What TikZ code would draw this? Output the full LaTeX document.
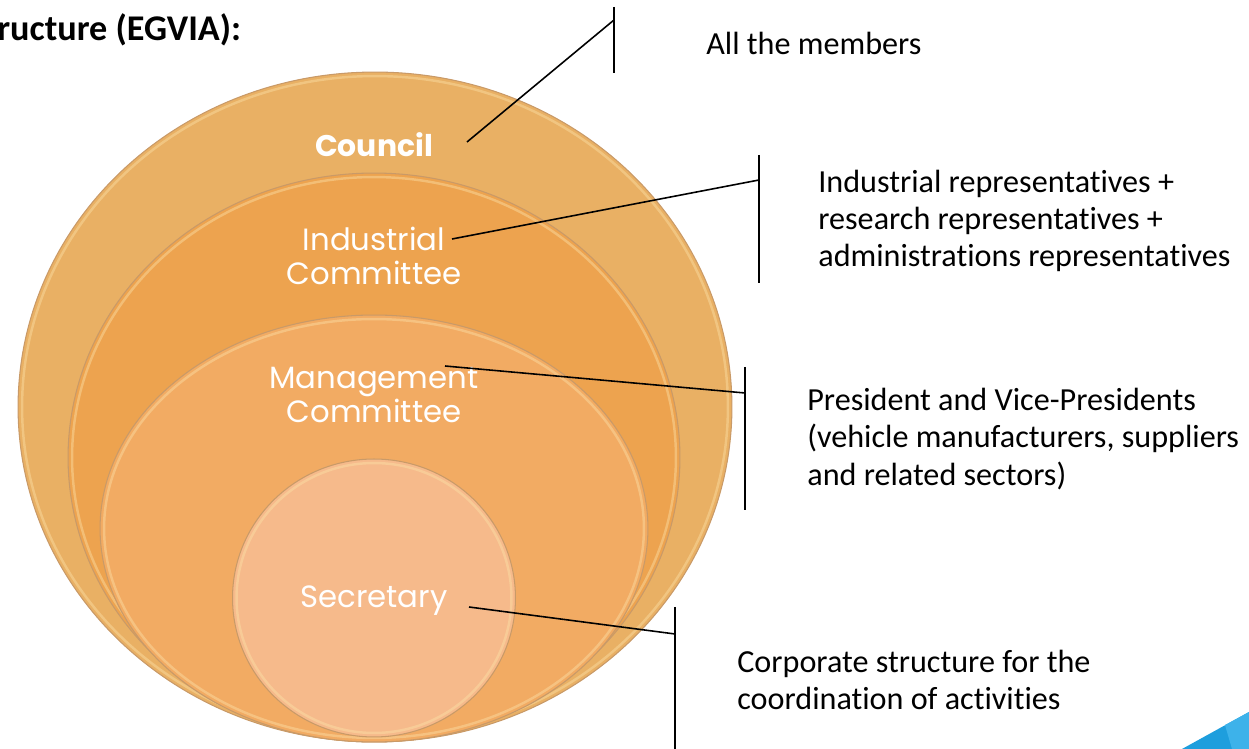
\documentclass[tikz,border=0pt]{standalone}
\usepackage{fontspec}
\setmainfont[Ligatures=NoCommon]{Carlito}
\newfontfamily\ringfont{Poppins}
\usepackage{xcolor}
\usetikzlibrary{shapes.geometric}

\definecolor{councilfill}{HTML}{E9B064}
\definecolor{industryfill}{HTML}{EDA34F}
\definecolor{managefill}{HTML}{F2AB63}
\definecolor{secretfill}{HTML}{F6BA8B}
\definecolor{rimcol}{HTML}{C99A68}
\definecolor{glosscol}{HTML}{FBE0A6}
\definecolor{egviablue}{HTML}{1E9EDD}
\definecolor{egvialight}{HTML}{3DB2EA}

\tikzset{
  ring/.style={ellipse, draw=rimcol, line width=0.6pt, inner sep=0pt},
  gloss/.style={glosscol, opacity=0.45, line width=1.4pt},
  ringlabel/.style={text=white, align=center, font=\ringfont\fontsize{17.5}{19.4}\selectfont},
  note/.style={anchor=west, align=left, inner sep=0pt, font=\fontsize{18.3}{21.2}\selectfont},
  leader/.style={black, line width=0.9pt},
}

\begin{document}
\begin{tikzpicture}[x=0.02cm, y=-0.02cm]
\useasboundingbox (0,0) rectangle (1249,749);

% stacked rings
\node[ring, fill=councilfill, minimum width=14.28cm, minimum height=13.4cm] (council) at (375,407) {};
\draw[gloss] (council.center) ellipse [x radius=7.06cm, y radius=6.62cm];
\node[ring, fill=industryfill, minimum width=12.24cm, minimum height=11.38cm] (industry) at (374,457.5) {};
\draw[gloss] (industry.center) ellipse [x radius=6.04cm, y radius=5.61cm];
\node[ring, fill=managefill, minimum width=10.96cm, minimum height=8.54cm] (manage) at (374,528.5) {};
\draw[gloss] (manage.center) ellipse [x radius=5.4cm, y radius=4.19cm];
\node[ring, fill=secretfill, minimum width=5.66cm, minimum height=5.56cm] (secret) at (374,598) {};
\draw[gloss] (secret.center) ellipse [x radius=2.75cm, y radius=2.7cm];

% ring labels
\node[ringlabel, font=\ringfont\bfseries\fontsize{17}{19.4}\selectfont] (councillbl) at (374,145) {Council};
\node[ringlabel] (industrylbl) at (374,256) {Industrial\\Committee};
\node[ringlabel] (managelbl) at (374,395) {Management\\Committee};
\node[ringlabel] (secretlbl) at (374,601) {Secretary};

% leader start points
\coordinate (councilpt) at (467,142);
\coordinate (industrypt) at (452,239);
\coordinate (managept) at (445,366);
\coordinate (secretpt) at (469,607);

% brackets
\coordinate (counciltop) at (614,7);
\coordinate (councilbot) at (614,73);
\coordinate (councilhit) at (614,20);
\coordinate (industrytop) at (759,155);
\coordinate (industrybot) at (759,283);
\coordinate (industryhit) at (759,180);
\coordinate (managetop) at (745,367);
\coordinate (managebot) at (745,510);
\coordinate (managehit) at (745,393);
\coordinate (secrettop) at (675,607);
\coordinate (secretbot) at (675,749);
\coordinate (secrethit) at (675,634);

\draw[leader] (counciltop) -- (councilbot);
\draw[leader] (industrytop) -- (industrybot);
\draw[leader] (managetop) -- (managebot);
\draw[leader] (secrettop) -- (secretbot);

\draw[leader] (councilpt) -- (councilhit);
\draw[leader] (industrypt) -- (industryhit);
\draw[leader] (managept) -- (managehit);
\draw[leader] (secretpt) -- (secrethit);

% descriptions
\node[note] (councilnote) at (706,43) {All the members};
\node[note] (industrynote) at (818,221) {Industrial representatives +\\research representatives +\\administrations representatives};
\node[note] (managenote) at (807,439) {President and Vice-Presidents\\(vehicle manufacturers, suppliers\\and related sectors)};
\node[note] (secretnote) at (737,680) {Corporate structure for the\\coordination of activities};

% title and corner mark
\node[anchor=west, inner sep=0pt, font=\bfseries\fontsize{20.6}{24}\selectfont] (title) at (-3,30) {ructure (EGVIA):};
\fill[egviablue] (1182,749) -- (1249,712) -- (1249,749) -- cycle;
\fill[egvialight] (1225,725) -- (1249,712) -- (1249,749) -- (1232,749) -- cycle;
\end{tikzpicture}
\end{document}
